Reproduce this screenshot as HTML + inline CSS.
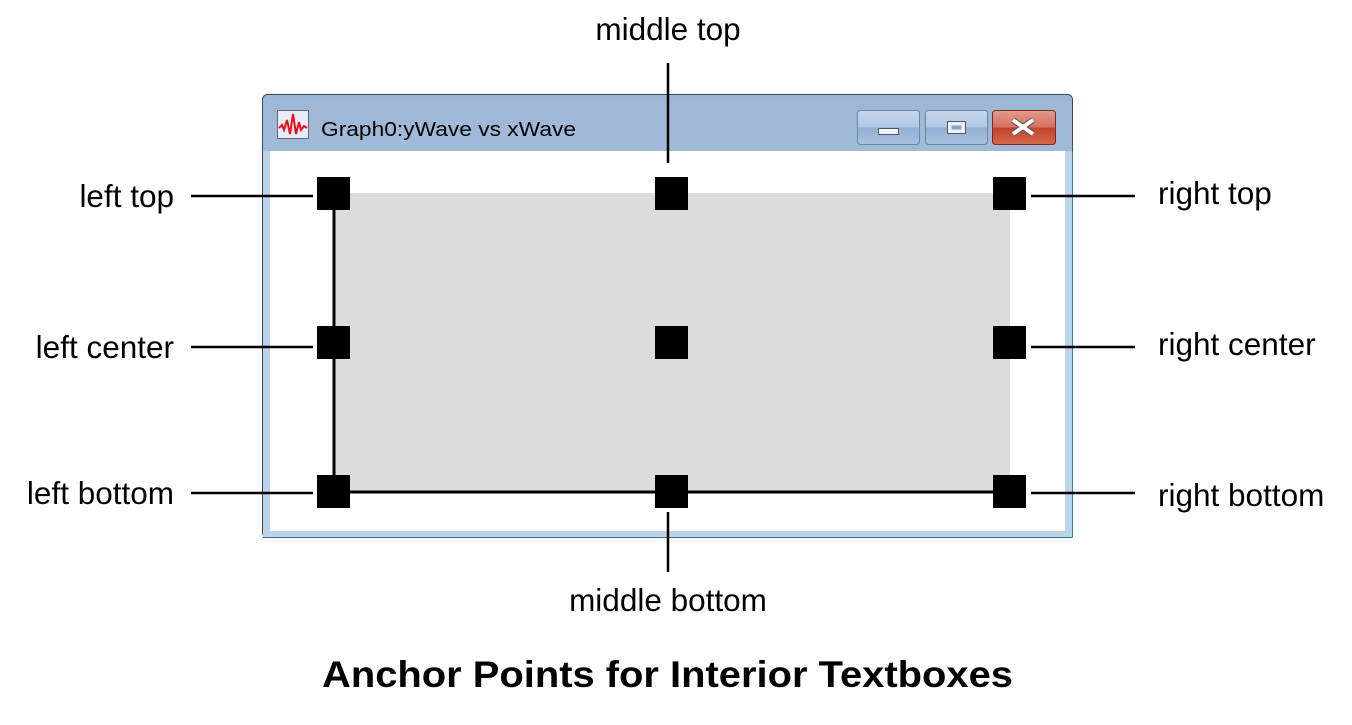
<!DOCTYPE html>
<html><head><meta charset="utf-8"><style>
html,body{margin:0;padding:0;background:#fff;}
svg{display:block;}
text{font-family:"Liberation Sans",Arial,sans-serif;fill:#000;}
</style></head><body>
<svg width="1352" height="725" viewBox="0 0 1352 725" xmlns="http://www.w3.org/2000/svg">
<defs>
<linearGradient id="tb" x1="0" y1="0" x2="0" y2="1">
<stop offset="0" stop-color="#9db7d5"/><stop offset="1" stop-color="#bcd2ea"/>
</linearGradient>
<linearGradient id="bb" x1="0" y1="0" x2="0" y2="1">
<stop offset="0" stop-color="#c7d9ee"/><stop offset="0.5" stop-color="#b0c8e3"/><stop offset="0.5" stop-color="#93afd2"/><stop offset="1" stop-color="#a9c1df"/>
</linearGradient>
<linearGradient id="cb" x1="0" y1="0" x2="0" y2="1">
<stop offset="0" stop-color="#e49a8b"/><stop offset="0.5" stop-color="#d4715f"/><stop offset="0.5" stop-color="#c2432b"/><stop offset="1" stop-color="#d36a50"/>
</linearGradient>
</defs>
<rect x="262.5" y="94.5" width="810" height="443" rx="5" fill="url(#tb)" stroke="#3b4a5c" stroke-width="1"/>
<rect x="263" y="151" width="809" height="386" fill="#bcd3ec"/>
<rect x="270" y="151" width="795" height="380" fill="#fff"/>
<line x1="262.5" y1="537.5" x2="1072.5" y2="537.5" stroke="#2f6f87"/>
<line x1="1072.5" y1="151" x2="1072.5" y2="537" stroke="#3a7fa0"/>
<rect x="277.5" y="110.5" width="31" height="28" fill="#e6ecf8" stroke="#667"/>
<path d="M279 128 l3 -3 l2 5 l3 -10 l3 14 l3 -20 l3 20 l3 -12 l2 8 l3 -4 l3 2" fill="none" stroke="#e8121a" stroke-width="2"/>
<text x="321" y="136" font-size="20" textLength="255" lengthAdjust="spacingAndGlyphs">Graph0:yWave vs xWave</text>
<rect x="857.5" y="110.5" width="62" height="34" rx="3" fill="url(#bb)" stroke="#6b85a6"/>
<rect x="878.5" y="128.5" width="20" height="6" fill="#eef3f9" stroke="#556"/>
<rect x="925.5" y="110.5" width="62" height="34" rx="3" fill="url(#bb)" stroke="#6b85a6"/>
<rect x="947.5" y="121.5" width="18" height="12" fill="#eef3f9" stroke="#556"/>
<rect x="951.5" y="125.5" width="10" height="4" fill="#8aa4c6"/>
<rect x="992.5" y="110.5" width="63" height="34" rx="3" fill="url(#cb)" stroke="#7a2a20"/>
<path d="M1013 120 L1033 134 M1033 120 L1013 134" stroke="#555" stroke-width="6"/>
<path d="M1013 120 L1033 134 M1033 120 L1013 134" stroke="#fff" stroke-width="4"/>
<rect x="334" y="193" width="676" height="299" fill="#dcdcdc"/>
<line x1="334" y1="193" x2="334" y2="492" stroke="#000" stroke-width="3"/>
<line x1="334" y1="492" x2="1010" y2="492" stroke="#000" stroke-width="3"/>
<g fill="#000">
<rect x="317" y="177" width="33" height="33"/><rect x="655" y="177" width="33" height="33"/><rect x="993" y="177" width="33" height="33"/>
<rect x="317" y="326" width="33" height="33"/><rect x="655" y="326" width="33" height="33"/><rect x="993" y="326" width="33" height="33"/>
<rect x="317" y="475" width="33" height="33"/><rect x="655" y="475" width="33" height="33"/><rect x="993" y="475" width="33" height="33"/>
</g>
<g stroke="#000" stroke-width="2.5">
<line x1="191" y1="196" x2="313" y2="196"/><line x1="191" y1="347" x2="313" y2="347"/><line x1="191" y1="493" x2="313" y2="493"/>
<line x1="1031" y1="196" x2="1135" y2="196"/><line x1="1031" y1="347" x2="1135" y2="347"/><line x1="1031" y1="493" x2="1135" y2="493"/>
<line x1="668" y1="63" x2="668" y2="163"/><line x1="668" y1="512" x2="668" y2="572"/>
</g>
<g font-size="31.5">
<text x="174" y="207" text-anchor="end">left top</text>
<text x="174" y="358" text-anchor="end">left center</text>
<text x="174" y="504" text-anchor="end">left bottom</text>
<text x="1158" y="204">right top</text>
<text x="1158" y="355">right center</text>
<text x="1158" y="506">right bottom</text>
<text x="668" y="40" text-anchor="middle">middle top</text>
<text x="668" y="611" text-anchor="middle">middle bottom</text>
</g>
<text x="322" y="687" font-size="37" font-weight="bold" textLength="691" lengthAdjust="spacingAndGlyphs">Anchor Points for Interior Textboxes</text>
</svg>
</body></html>
